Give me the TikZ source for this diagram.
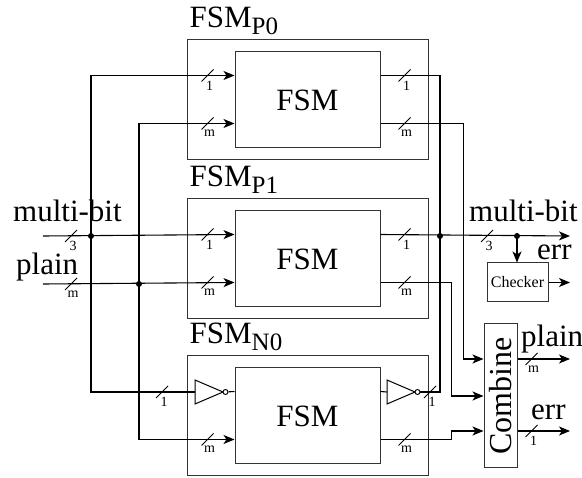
\documentclass[tikz,border=0pt]{standalone}
\usepackage{fontspec}
\setmainfont{Liberation Serif}
\usetikzlibrary{arrows.meta,calc}

\newcommand{\lowsub}[1]{\raisebox{-7pt}{\fontsize{25}{25}\selectfont #1}}

\tikzset{
  sig/.style={line width=1.1pt},
  arr/.style={sig, -{Stealth[length=11pt,width=9pt,inset=3pt]}},
  fsm/.style={draw=black!80, line width=1pt, minimum width=145pt, minimum height=96pt, inner sep=0pt, font=\fontsize{31}{33}\selectfont},
  wrap/.style={draw=black!80, line width=1pt, minimum width=241pt, minimum height=120pt, inner sep=0pt},
  title/.style={inner sep=0pt, anchor=base west, font=\fontsize{31}{33}\selectfont},
  buslbl/.style={inner sep=0pt, font=\fontsize{14}{14}\selectfont},
  dot/.style={circle, fill, inner sep=0pt, minimum size=6pt},
  bubble/.style={circle, draw, line width=0.9pt, fill=white, inner sep=0pt, minimum size=5pt},
  gate/.style={draw, line width=1pt},
  bus/.pic={\draw[line width=1pt] (-6,6) -- (6,-6); \node[buslbl] at (2,10) {#1};}
}

\begin{document}
\begin{tikzpicture}[x=1pt, y=-1pt]
\useasboundingbox (0,0) rectangle (582,478);

\node[fsm] (fsmP0) at (307.5,100) {FSM};
\node[fsm] (fsmP1) at (307.5,259) {FSM};
\node[fsm] (fsmN0) at (307.5,416) {FSM};
\foreach \f in {P0,P1,N0} {
  \node[wrap] (wrap\f) at (fsm\f) {};
  \coordinate (\f i1) at ([yshift=-24pt]fsm\f.north west);
  \coordinate (\f i2) at ([yshift=-72pt]fsm\f.north west);
  \coordinate (\f o1) at ([yshift=-24pt]fsm\f.north east);
  \coordinate (\f o2) at ([yshift=-72pt]fsm\f.north east);
}
\node[title] (nameP0) at ([xshift=3pt,yshift=12pt]wrapP0.north west) {FSM\lowsub{P0}};
\node[title] (nameP1) at ([xshift=3pt,yshift=12pt]wrapP1.north west) {FSM\lowsub{P1}};
\node[title] (nameN0) at ([xshift=3pt,yshift=12pt]wrapN0.north west) {FSM\lowsub{N0}};

\node[draw=black!80, line width=1pt, minimum width=61pt, minimum height=39pt, inner sep=0pt,
      font=\fontsize{16}{16}\selectfont] (chk) at (517.5,282.5) {Checker};
\node[draw=black!80, line width=1pt, minimum width=33pt, minimum height=144pt] (cmb) at (500.5,396) {};
\node[rotate=90, inner sep=0pt, font=\fontsize{32}{32}\selectfont] (cmbtxt) at (cmb) {Combine};
\coordinate (cI1) at ([yshift=37pt]cmb.west);
\coordinate (cI2) at (cmb.west);
\coordinate (cI3) at ([yshift=-35pt]cmb.west);
\coordinate (cO1) at ([yshift=37pt]cmb.east);
\coordinate (cO3) at ([yshift=-35pt]cmb.east);

\coordinate (inMB) at (43,236);
\coordinate (inPl) at (43,284);
\coordinate (outMB) at (570,236);
\node[dot] (jA) at (91,236) {};
\node[dot] (jB) at (139,284) {};
\node[dot] (jC) at (440,236) {};
\node[dot] (jD) at (517,236) {};

\coordinate (invL) at (195,392);
\draw[gate] (invL) -- ++(0,-12) -- ++(28,12) -- ++(-28,12) -- cycle;
\node[bubble] (bubL) at (225.5,392) {};
\coordinate (invR) at (387,392);
\draw[gate] (invR) -- ++(0,-12) -- ++(28,12) -- ++(-28,12) -- cycle;
\node[bubble] (bubR) at (417.5,392) {};

\draw[arr] (inMB) -- (P1i1);
\draw[arr] (inPl) -- (P1i2);
\draw[arr] (jA.center) |- (P0i1);
\draw[sig] (jA.center) |- (invL);
\draw[sig] (bubL) -- (N0i1);
\draw[arr] (jB.center) |- (P0i2);
\draw[arr] (jB.center) |- (N0i2);

\draw[sig] (P0o1) -| (jC.center);
\draw[sig] (N0o1) -- (invR);
\draw[sig] (bubR) -| (jC.center);
\draw[arr] (P1o1) -- (outMB);
\draw[arr] (jD.center) -- (jD.center |- chk.north);
\draw[arr] (chk.east) -- (chk.east -| outMB);
\draw[arr] (P0o2) -| ($(cI1)+(-20,0)$) -- (cI1);
\draw[arr] (P1o2) -| ($(cI2)+(-32,0)$) -- (cI2);
\draw[arr] (N0o2) -| ($(cI3)+(-32,0)$) -- (cI3);
\draw[arr] (cO1) -- (cO1 -| outMB);
\draw[arr] (cO3) -- (cO3 -| outMB);

\pic at (71,236) {bus=3};
\pic at (71,284) {bus=m};
\foreach \f in {P0,P1} {
  \pic at ([xshift=-27pt]\f i1) {bus=1};
  \pic at ([xshift=24pt]\f o1) {bus=1};
}
\foreach \f in {P0,P1,N0} {
  \pic at ([xshift=-27pt]\f i2) {bus=m};
  \pic at ([xshift=24pt]\f o2) {bus=m};
}
\pic at (162,392) {bus=1};
\pic at (430,392) {bus=1};
\pic at (487,236) {bus=3};
\pic at ([xshift=14pt]cO1) {bus=m};
\pic at ([xshift=14pt]cO3) {bus=1};

\node[title] (tMBin) at (13,222) {multi-bit};
\node[title] (tPlin) at (16,275) {plain};
\node[title] (tMBout) at (469,222) {multi-bit};
\node[title] (tErrA) at (537,260) {err};
\node[title] (tPlout) at (521,347) {plain};
\node[title] (tErrB) at (531,420) {err};
\end{tikzpicture}
\end{document}
